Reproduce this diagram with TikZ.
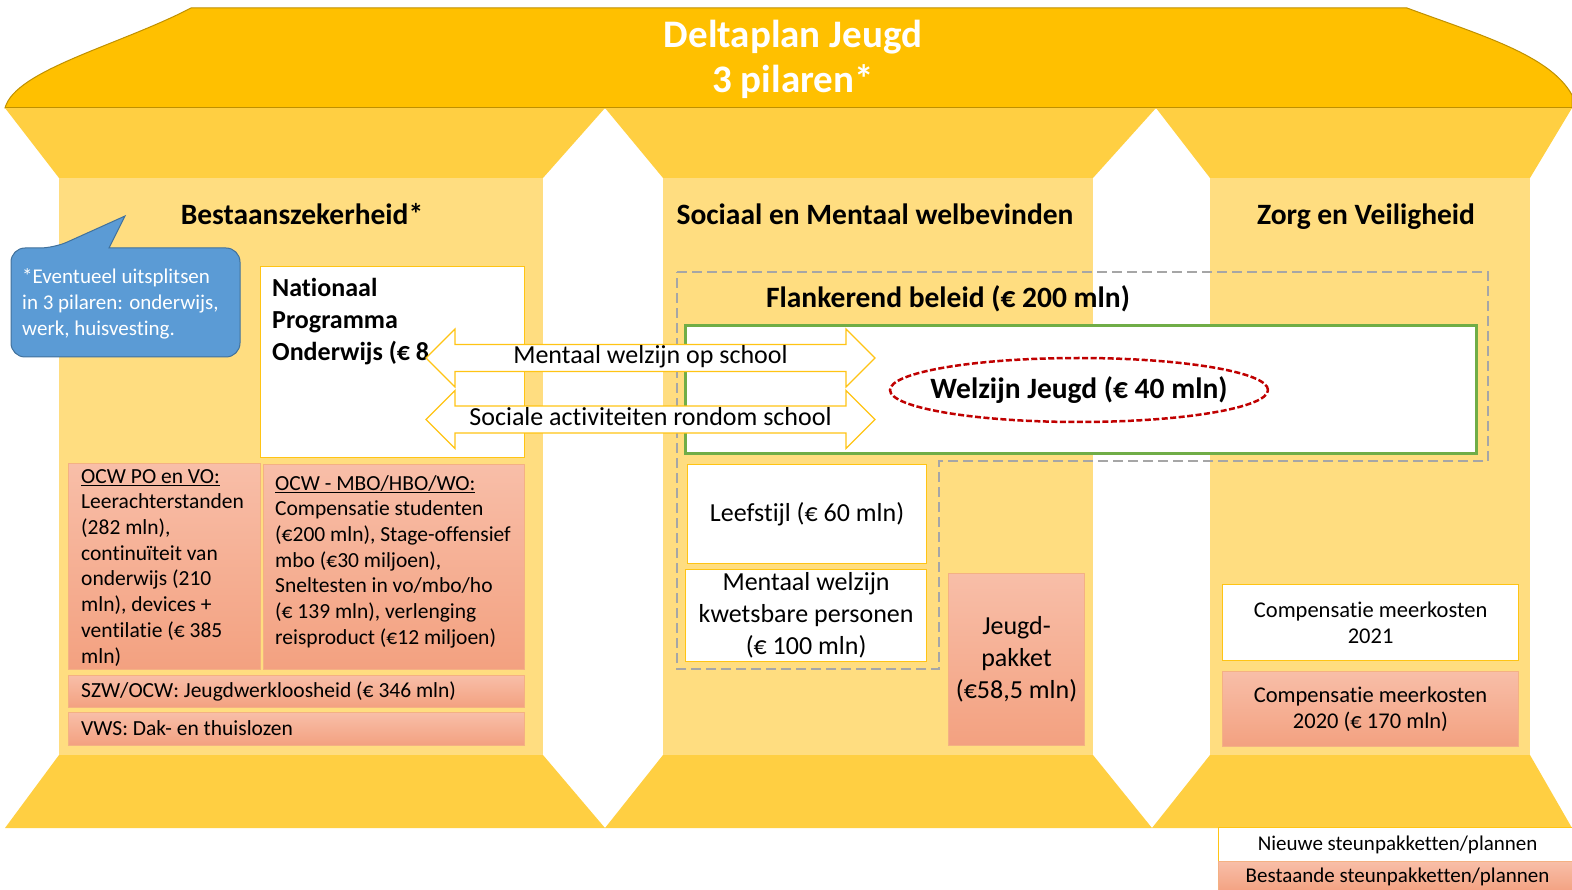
\documentclass[tikz,border=0pt]{standalone}
\usepackage{fontspec}
\setmainfont{Carlito}[Ligatures={NoCommon,NoContextual}, Contextuals=NoAlternate]
\usetikzlibrary{positioning, shapes.geometric, shapes.arrows}
\definecolor{RoofGold}{RGB}{255,192,0}
\definecolor{RoofLine}{RGB}{191,144,0}
\definecolor{CapGold}{RGB}{255,207,66}
\definecolor{BodyGold}{RGB}{255,221,128}
\definecolor{BoxLine}{RGB}{255,196,20}
\definecolor{SalmonTop}{RGB}{248,190,168}
\definecolor{SalmonBot}{RGB}{243,161,128}
\definecolor{SalmonLine}{RGB}{244,177,131}
\definecolor{CalloutBlue}{RGB}{91,155,213}
\definecolor{CalloutLine}{RGB}{65,113,156}
\definecolor{WelzijnGreen}{RGB}{112,173,71}
\definecolor{EllipseRed}{RGB}{192,0,0}
\definecolor{GrayDash}{RGB}{166,166,166}

\begin{document}
\begin{tikzpicture}[x=1pt, y=-1pt,
    roof/.style={fill=RoofGold, draw=RoofLine, line width=1pt},
    capital/.style={fill=CapGold},
    column/.style={fill=BodyGold},
    heading/.style={font=\fontsize{29.5}{34}\selectfont\bfseries, anchor=base, inner sep=0pt},
    newbox/.style={draw=BoxLine, fill=white, line width=1.2pt, inner sep=0pt, anchor=north west},
    oldbox/.style={draw=SalmonLine, top color=SalmonTop, bottom color=SalmonBot,
                   line width=1pt, inner sep=0pt, anchor=north west},
    bodytext/.style={font=\fontsize{21.5}{25.7}\selectfont, align=left, inner sep=0pt, anchor=north west},
    midtext/.style={font=\fontsize{26}{32}\selectfont, align=center},
    comptext/.style={font=\fontsize{22.5}{26}\selectfont, align=center},
    dblarrow/.style={double arrow, draw=BoxLine, fill=white, line width=1.2pt,
                     minimum height=449pt, minimum width=58pt,
                     double arrow head extend=14.5pt, double arrow tip angle=90,
                     inner sep=0pt, font=\fontsize{26}{30}\selectfont,
                     text height=18pt, text depth=6pt},
    grayframe/.style={draw=GrayDash, line width=2.5pt, dash pattern=on 10pt off 5pt}
  ]
  \useasboundingbox (0,0) rectangle (1572,890);

  % roof
  \draw[roof] (5,108) .. controls (15,70) and (120,45) .. (191,8) -- (1407,8)
    .. controls (1480,35) and (1550,55) .. (1572,95) -- (1572,108) -- cycle;

  % three pillars: capital, column, base
  \foreach \capl/\capr/\colL/\colR/\basel/\baser in
      {5/605/59/543/5/605, 605/1156/663/1093/605/1152, 1156/1572/1210/1530/1152/1572}{
    \fill[capital] (\capl,108) -- (\capr,108) -- (\colR,178) -- (\colL,178) -- cycle;
    \fill[column] (\colL,178) rectangle (\colR,755);
    \fill[capital] (\colL,755) -- (\colR,755) -- (\baser,828) -- (\basel,828) -- cycle;
  }
  \draw[RoofLine, line width=1pt] (5,108) -- (1572,108);

  \node[font=\fontsize{39}{44}\selectfont\bfseries, text=white, anchor=base] (titel1) at (793,48) {Deltaplan Jeugd};
  \node[font=\fontsize{39}{44}\selectfont\bfseries, text=white, anchor=base] (titel2) at (793,93) {3 pilaren*};

  \node[heading] (kop1) at (302,225) {Bestaanszekerheid*};
  \node[heading] (kop2) at (875,225) {Sociaal en Mentaal welbevinden};
  \node[heading] (kop3) at (1366,225) {Zorg en Veiligheid};

  % callout
  \draw[fill=CalloutBlue, draw=CalloutLine, line width=1pt]
    (11,300) [rounded corners=14pt] -- (11,248) -- (54,248) [sharp corners] -- (125,216) -- (109,248)
    [rounded corners=14pt] -- (240,248) -- (240,357) -- (11,357) -- cycle;
  \node[bodytext, font=\fontsize{21}{26}\selectfont, text=white] (noot) at (22,268)
    {*Eventueel uitsplitsen\\in 3 pilaren: onderwijs,\\werk, huisvesting.};

  % Bestaanszekerheid
  \node[newbox, minimum width=264pt, minimum height=191pt] (npo) at (260,266) {};
  \node[bodytext, font=\fontsize{26}{32}\selectfont\bfseries] (npotekst) at (272,278)
    {Nationaal\\Programma\\Onderwijs (€ 8};
  \node[oldbox, minimum width=192pt, minimum height=206pt] (ocwpo) at (68,463) {};
  \node[bodytext] (ocwpotekst) at (81,469)
    {\underline{OCW PO en VO:}\\Leerachterstanden\\(282 mln),\\continuïteit van\\onderwijs (210\\mln), devices +\\ventilatie (€ 385\\mln)};
  \node[oldbox, minimum width=261pt, minimum height=205pt] (ocwmbo) at (263,464) {};
  \node[bodytext] (ocwmbotekst) at (275,475)
    {\underline{OCW - MBO/HBO/WO:}\\Compensatie studenten\\(€200 mln), Stage-offensief\\mbo (€30 miljoen),\\Sneltesten in vo/mbo/ho\\(€ 139 mln), verlenging\\reisproduct (€12 miljoen)};
  \node[oldbox, minimum width=456pt, minimum height=32pt] (szw) at (68,675) {};
  \node[bodytext, anchor=west] at (81,691) {SZW/OCW: Jeugdwerkloosheid (€ 346 mln)};
  \node[oldbox, minimum width=456pt, minimum height=33pt] (vws) at (68,712) {};
  \node[bodytext, anchor=west] at (81,728.5) {VWS: Dak- en thuislozen};

  % Sociaal en Mentaal welbevinden
  \draw[grayframe] (677,272) -- (1488,272) -- (1488,461) -- (939,461) -- (939,669) -- (677,669) -- cycle;
  \node[heading] (flank) at (948,308) {Flankerend beleid (€ 200 mln)};
  \node[draw=WelzijnGreen, fill=white, line width=3pt, anchor=north west,
        minimum width=791pt, minimum height=128pt] (welzijn) at (684,324) {};
  \node[newbox, minimum width=239pt, minimum height=99pt, midtext] (leef) at (687,464) {Leefstijl (€ 60 mln)};
  \node[newbox, minimum width=241pt, minimum height=92pt, midtext] (kwets) at (685,569)
    {Mentaal welzijn\\kwetsbare personen\\(€ 100 mln)};
  \node[oldbox, minimum width=136pt, minimum height=172pt, midtext] (jeugd) at (948,573)
    {Jeugd-\\pakket\\(€58,5 mln)};

  % Zorg en Veiligheid
  \node[newbox, minimum width=296pt, minimum height=76pt, comptext] (comp21) at (1222,584)
    {Compensatie meerkosten\\2021};
  \node[oldbox, minimum width=296pt, minimum height=75pt, comptext] (comp20) at (1222,671)
    {Compensatie meerkosten\\2020 (€ 170 mln)};

  % arrows across pillars
  \node[dblarrow] (pijlmentaal) at (650.5,358) {Mentaal welzijn op school};
  \node[dblarrow] (pijlsociaal) at (650.5,419.5) {Sociale activiteiten rondom school};

  \node[ellipse, draw=EllipseRed, line width=2.5pt, dash pattern=on 6pt off 2.5pt,
        minimum width=378pt, minimum height=64pt, inner sep=0pt] (wjeugd) at (1079,390) {};
  \node[font=\fontsize{29.5}{34}\selectfont\bfseries, inner sep=0pt] (wjeugdtekst) at (wjeugd.center)
    {Welzijn Jeugd (€ 40 mln)};

  % legend
  \node[newbox, minimum width=358pt, minimum height=34pt, font=\fontsize{21}{25}\selectfont] (nieuw) at (1218,827)
    {Nieuwe steunpakketten/plannen};
  \node[oldbox, minimum width=358pt, minimum height=31pt, font=\fontsize{21}{25}\selectfont] (bestaand) at (1218,861)
    {Bestaande steunpakketten/plannen};
\end{tikzpicture}
\end{document}
